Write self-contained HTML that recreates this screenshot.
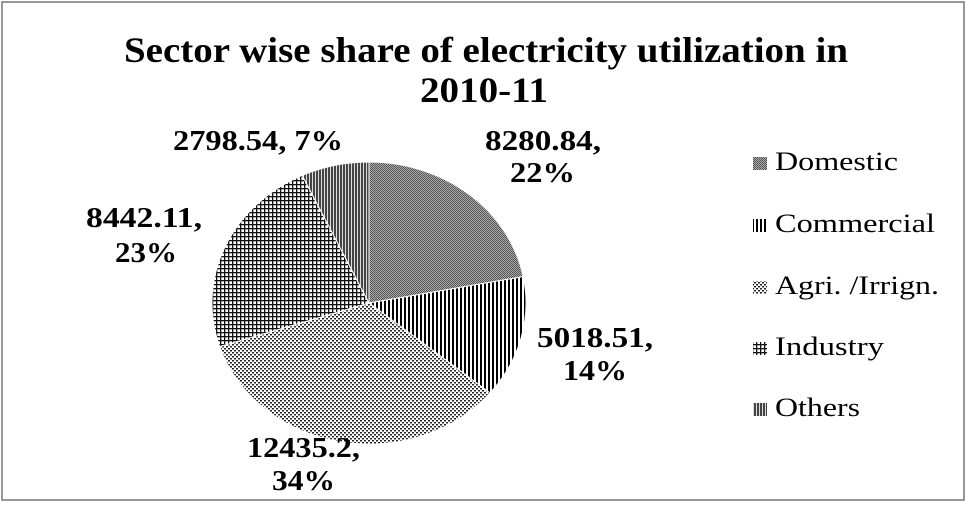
<!DOCTYPE html>
<html><head><style>body{margin:0;background:#fff}</style></head><body>
<svg width="970" height="505" xmlns="http://www.w3.org/2000/svg" font-family="Liberation Serif, serif">
<defs>
<pattern id="dom" width="2" height="2" patternUnits="userSpaceOnUse"><rect width="2" height="2" fill="#aaa"/><rect width="1" height="1" fill="#555"/><rect x="1" y="1" width="1" height="1" fill="#555"/></pattern>
<pattern id="com" width="4" height="4" patternUnits="userSpaceOnUse"><rect width="4" height="4" fill="#fff"/><rect width="2" height="4" fill="#000"/></pattern>
<pattern id="agr" width="4" height="4" patternUnits="userSpaceOnUse"><rect width="4" height="4" fill="#fff"/><rect width="2" height="1.5" fill="#222"/><rect x="2" y="2" width="2" height="1.5" fill="#222"/></pattern>
<pattern id="ind" width="4" height="4" patternUnits="userSpaceOnUse"><rect width="4" height="4" fill="#fff"/><rect width="4" height="1.3" fill="#111"/><rect width="1.3" height="4" fill="#111"/></pattern>
<pattern id="oth" width="3" height="3" patternUnits="userSpaceOnUse"><rect width="3" height="3" fill="#444"/><rect width="1" height="3" fill="#ddd"/></pattern>
</defs>
<rect x="2" y="2" width="962" height="498" fill="#fff" stroke="#777" stroke-width="1.5"/>
<text x="124" y="62" font-size="36" font-weight="bold" textLength="724" lengthAdjust="spacingAndGlyphs">Sector wise share of electricity utilization in</text>
<text x="420" y="102" font-size="36" font-weight="bold" textLength="128" lengthAdjust="spacingAndGlyphs">2010-11</text>
<g stroke="#fff" stroke-width="1">
<path d="M369,303 L369,162 A157,141 0 0,1 523.2,276.6 Z" fill="url(#dom)"/>
<path d="M369,303 L523.2,276.6 A157,141 0 0,1 490,392.9 Z" fill="url(#com)"/>
<path d="M369,303 L490,392.9 A157,141 0 0,1 219.7,346.6 Z" fill="url(#agr)"/>
<path d="M369,303 L219.7,346.6 A157,141 0 0,1 302.2,175.4 Z" fill="url(#ind)"/>
<path d="M369,303 L302.2,175.4 A157,141 0 0,1 369,162 Z" fill="url(#oth)"/>
</g>
<g font-size="28" font-weight="bold">
<text x="485" y="150" textLength="116" lengthAdjust="spacingAndGlyphs">8280.84,</text>
<text x="510" y="182" textLength="65" lengthAdjust="spacingAndGlyphs">22%</text>
<text x="173" y="150" textLength="170" lengthAdjust="spacingAndGlyphs">2798.54, 7%</text>
<text x="86" y="227" textLength="116" lengthAdjust="spacingAndGlyphs">8442.11,</text>
<text x="115" y="262" textLength="62" lengthAdjust="spacingAndGlyphs">23%</text>
<text x="537" y="347" textLength="116" lengthAdjust="spacingAndGlyphs">5018.51,</text>
<text x="563" y="380" textLength="64" lengthAdjust="spacingAndGlyphs">14%</text>
<text x="247" y="457" textLength="113" lengthAdjust="spacingAndGlyphs">12435.2,</text>
<text x="272" y="490" textLength="63" lengthAdjust="spacingAndGlyphs">34%</text>
</g>
<g font-size="26">
<rect x="753" y="157" width="14" height="13" fill="url(#dom)"/><text x="775" y="170" textLength="123" lengthAdjust="spacingAndGlyphs">Domestic</text>
<rect x="753" y="219" width="14" height="13" fill="url(#com)"/><text x="775" y="232" textLength="160" lengthAdjust="spacingAndGlyphs">Commercial</text>
<rect x="753" y="281" width="14" height="13" fill="url(#agr)"/><text x="775" y="294" textLength="164" lengthAdjust="spacingAndGlyphs">Agri. /Irrign.</text>
<rect x="753" y="342" width="14" height="13" fill="url(#ind)"/><text x="775" y="355" textLength="109" lengthAdjust="spacingAndGlyphs">Industry</text>
<rect x="753" y="403" width="14" height="13" fill="url(#oth)"/><text x="775" y="416" textLength="85" lengthAdjust="spacingAndGlyphs">Others</text>
</g>
</svg>
</body></html>
